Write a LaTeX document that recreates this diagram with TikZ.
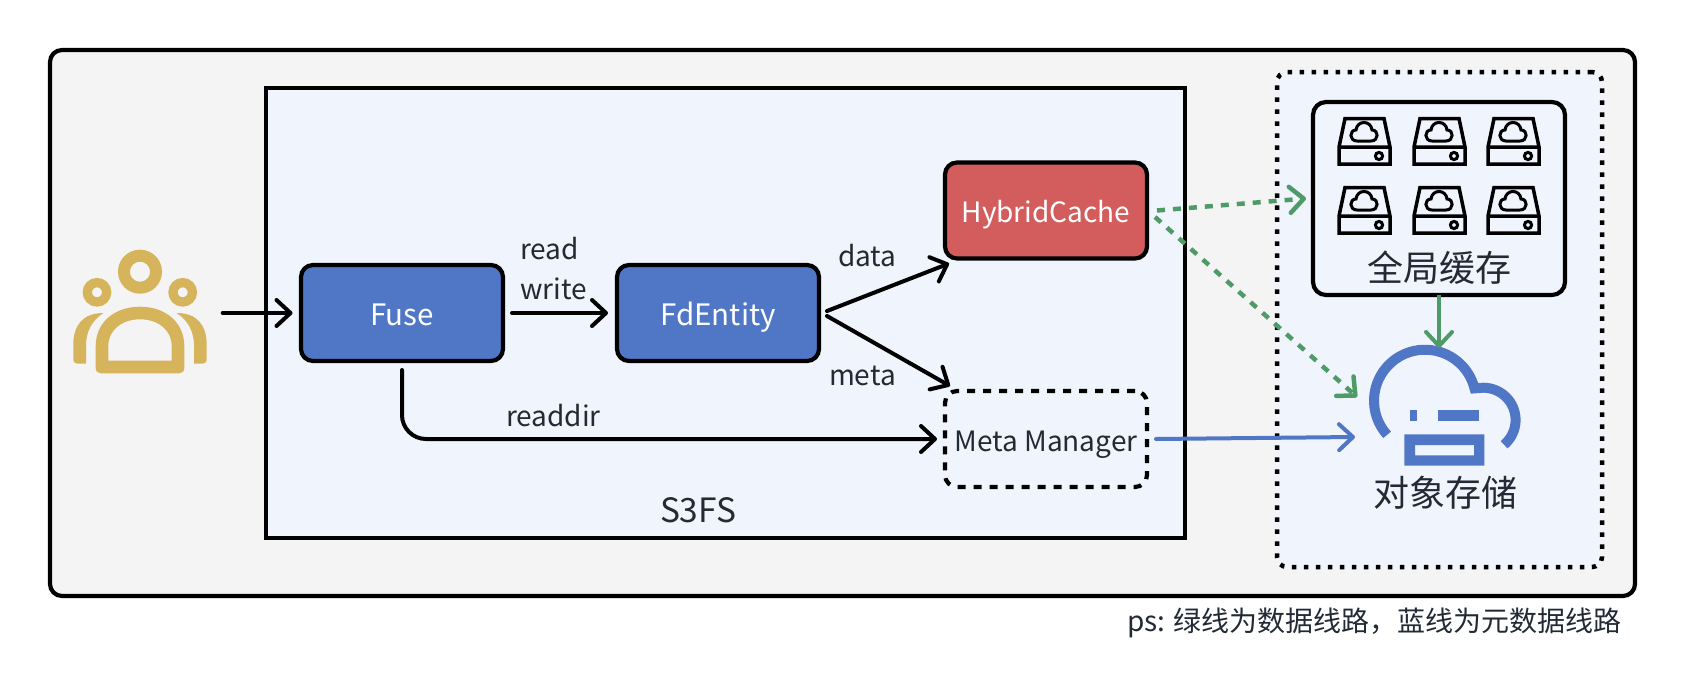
\documentclass[tikz,border=0pt]{standalone}
\usepackage{fontspec}
\setmainfont{Noto Sans CJK SC}
\usetikzlibrary{arrows.meta}
\definecolor{txt}{HTML}{232A35}
\definecolor{bgout}{HTML}{F4F4F4}
\definecolor{bgin}{HTML}{F0F4FD}
\definecolor{bluefill}{HTML}{5077C6}
\definecolor{redfill}{HTML}{D35D5D}
\definecolor{gold}{HTML}{D5B45B}
\definecolor{greenl}{HTML}{4F9B67}
\newcommand{\fa}{\fontsize{28}{33}\selectfont}
\newcommand{\fab}{\fontsize{29.5}{35}\selectfont}
\newcommand{\fb}{\fontsize{33.5}{40}\selectfont}
\newcommand{\fc}{\fontsize{36}{43}\selectfont}
\tikzset{
  box/.style={draw=black,line width=4.2pt,rounded corners=12pt,minimum width=202pt,minimum height=96pt,inner sep=0pt,outer sep=0pt,text height=24pt,text depth=0pt,font=\fa},
  bluebox/.style={box,fill=bluefill,text=white,font=\fab},
  redbox/.style={box,fill=redfill,text=white},
  dashbox/.style={box,fill=bgin,text=txt,dash pattern=on 8pt off 8pt},
  lbl/.style={anchor=base west,inner sep=0pt,outer sep=0pt,text=txt,font=\fa},
  conn/.style={draw=black,line width=4pt,line cap=round,-{Straight Barb[length=14pt,width=26pt,round]}},
  greenconn/.style={draw=greenl,line width=4pt,-{Straight Barb[length=14pt,width=26pt,round]}},
  greendash/.style={greenconn,line width=4.5pt,dash pattern=on 8pt off 8pt},
  blueconn/.style={draw=bluefill,line width=4pt,line cap=round,-{Straight Barb[length=14pt,width=26pt,round]}},
  disk/.pic={
    \draw[black,line width=3.5pt,line join=miter] (7,1.5) -- (46,1.5) -- (52,30) -- (52,47) -- (1,47) -- (1,30) -- cycle (1,30) -- (52,30);
    \draw[black,line width=3pt] (19,24) .. controls (11,24) and (11,13) .. (18,13) .. controls (19,3) and (33,3) .. (34,13) .. controls (41,13) and (41,24) .. (33,24) -- cycle;
    \draw[black,line width=3pt] (41,39) circle[radius=3.6pt];
  }
}
\begin{document}
\begin{tikzpicture}[x=1pt,y=-1pt]
\useasboundingbox (0,0) rectangle (1686,688);
\fill[white] (0,0) rectangle (1686,688);
% containers
\node[draw=black,fill=bgout,line width=4.2pt,rounded corners=12pt,minimum width=1585pt,minimum height=546pt,outer sep=0pt,inner sep=0pt] (outer) at (842.5,323) {};
\node[draw=black,fill=bgin,line width=4.2pt,minimum width=919pt,minimum height=450pt,outer sep=0pt,inner sep=0pt] (s3fs) at (725.5,313) {};
\node[draw=black,fill=bgin,line width=4.5pt,rounded corners=10pt,dash pattern=on 4.5pt off 7.5pt,minimum width=325pt,minimum height=495pt,outer sep=0pt,inner sep=0pt] (dotted) at (1439.5,319.5) {};
\node[draw=black,fill=bgin,line width=4.2pt,rounded corners=13pt,minimum width=252pt,minimum height=193pt,outer sep=0pt,inner sep=0pt] (cache) at (1439,198.5) {};
% user icon
\coordinate (user) at (222.7,313);
\begin{scope}[gold]
\draw[line width=12pt] (140,271.7) circle[radius=16pt];
\draw[line width=9.3pt] (97,292.3) circle[radius=9.7pt];
\draw[line width=9.3pt] (182.7,292.3) circle[radius=9.7pt];
\fill[even odd rule] (95.7,346) .. controls (95.7,322) and (115,306.7) .. (140,306.7) .. controls (165,306.7) and (184.3,322) .. (184.3,346) -- (184.3,368) .. controls (184.3,371.5) and (182,373.3) .. (179,373.3) -- (101,373.3) .. controls (98,373.3) and (95.7,371.5) .. (95.7,368) -- cycle
 (108.3,360.7) -- (171.7,360.7) -- (171.7,346) .. controls (171.7,330) and (158,319.3) .. (140,319.3) .. controls (122,319.3) and (108.3,330) .. (108.3,346) -- cycle;
\fill (73.3,345) .. controls (73.3,325) and (83,313) .. (103.5,313) .. controls (92,320) and (86,332) .. (86,345) -- (86,363.5) -- (77,363.5) .. controls (75,363.5) and (73.3,362) .. (73.3,360) -- cycle;
\fill (206.7,345) .. controls (206.7,325) and (197,313) .. (176.5,313) .. controls (188,320) and (194,332) .. (194,345) -- (194,363.5) -- (203,363.5) .. controls (205,363.5) and (206.7,362) .. (206.7,360) -- cycle;
\end{scope}
% boxes
\node[bluebox] (fuse) at (402,313) {Fuse};
\node[bluebox] (fde) at (718,313) {FdEntity};
\node[redbox] (hc) at (1046,210.5) {HybridCache};
\node[dashbox] (mm) at (1046,439) {Meta Manager};
% disks
\pic at (1338,117) {disk};
\pic at (1413,117) {disk};
\pic at (1487,117) {disk};
\pic at (1338,186) {disk};
\pic at (1413,186) {disk};
\pic at (1487,186) {disk};
\node[text=txt,font=\fc,inner sep=0pt] (cachelbl) at (1439,268) {全局缓存};
% cloud icon
\coordinate (cloud) at (1425,400.7);
\begin{scope}[shift={(cloud)},x=1pt,y=1pt]
\draw[bluefill,line width=10pt] (222:51pt) arc[start angle=222,end angle=14,radius=51pt] -- (58.3,13) arc[start angle=90,end angle=-50,radius=32.3pt];
\end{scope}
\fill[bluefill] (1410,410) rectangle (1416.7,420.7);
\fill[bluefill] (1437.7,410) rectangle (1479,420.7);
\fill[bluefill,even odd rule] (1404.3,434.3) rectangle (1484.3,465.7) (1415,445) rectangle (1474,455.3);
\node[text=txt,font=\fc,inner sep=0pt] (objlbl) at (1445,492.7) {对象存储};
\coordinate (gtarget) at (1439,348);
\coordinate (dtarget) at (1357,397);
\coordinate (btarget) at (1355,437);
% labels
\node[lbl] (lread) at (520,259) {read};
\node[lbl] (lwrite) at (520,299) {write};
\node[lbl] (ldata) at (838,266) {data};
\node[lbl] (lmeta) at (829,385) {meta};
\node[lbl] (lreaddir) at (506,426) {readdir};
\node[lbl,font=\fb] (ls3) at (660,522) {S3FS};
\node[lbl,anchor=base east] (ps) at (1622,631) {ps: 绿线为数据线路，蓝线为元数据线路};
% connectors
\draw[conn] (user) -- ([xshift=-8.5pt]fuse.west);
\draw[conn] ([xshift=9pt]fuse.east) -- ([xshift=-9pt]fde.west);
\draw[conn] ([xshift=8pt,yshift=2pt]fde.east) -- ([xshift=4pt,yshift=-5pt]hc.south west);
\draw[conn] ([xshift=8pt,yshift=-3pt]fde.east) -- ([xshift=5pt,yshift=5pt]mm.north west);
\draw[conn,rounded corners=24pt] ([yshift=-9pt]fuse.south) |- ([xshift=-8pt]mm.west);
\draw[greendash] ([xshift=10pt]hc.east) -- ([xshift=-7pt]cache.west);
\draw[greendash] ([xshift=8pt,yshift=-6.5pt]hc.east) -- (dtarget);
\draw[greenconn] (cache.south) -- (gtarget);
\draw[blueconn] ([xshift=9pt]mm.east) -- (btarget);
\end{tikzpicture}
\end{document}
